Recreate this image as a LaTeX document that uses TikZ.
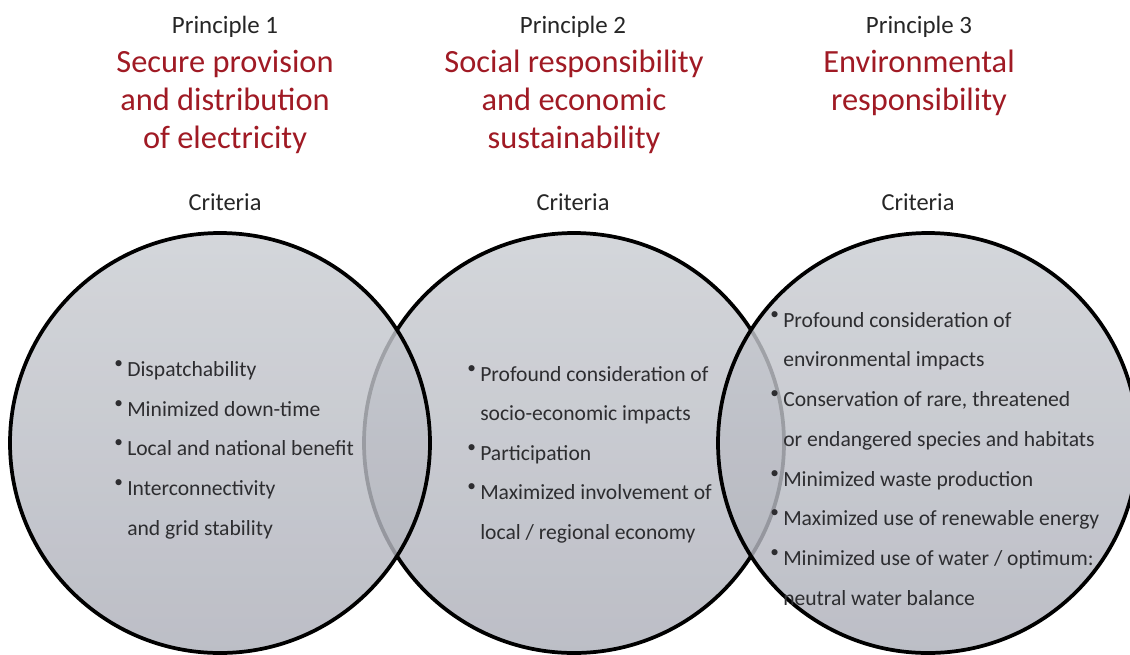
\documentclass[tikz,border=0pt]{standalone}
\usepackage{fontspec}
\setmainfont{Carlito}
\usepackage{graphicx}
\definecolor{titlered}{RGB}{160,26,36}
\definecolor{ink}{RGB}{38,38,38}
\definecolor{listink}{RGB}{45,45,48}
\definecolor{shadetop}{RGB}{203,206,211}
\definecolor{shadebot}{RGB}{174,176,186}
% small raised bullet hanging left of the item text
\newcommand\itembul{\llap{\raisebox{0.36em}{\scalebox{0.8}{\textbullet}}\hspace{0.2em}}}
\tikzset{
  venn/.style={circle, inner sep=0pt, minimum size=315pt, line width=2.8pt,
    draw=black, shade, top color=shadetop, bottom color=shadebot, fill opacity=0.82},
  principle/.style={anchor=base, inner sep=0pt, text=ink,
    font=\fontsize{18.7}{22}\selectfont},
  heading/.style={anchor=base, inner sep=0pt, text=titlered,
    font=\fontsize{24.3}{29}\selectfont},
  criteria/.style={anchor=base, inner sep=0pt, text=ink,
    font=\fontsize{18.3}{22}\selectfont},
  item/.style={anchor=base west, inner sep=0pt, text=listink,
    font=\fontsize{16.2}{19}\selectfont}
}
\begin{document}
\begin{tikzpicture}[x=0.75pt,y=-0.75pt]
\fill[white] (0,0) rectangle (1130,654);
\useasboundingbox (0,0) rectangle (1130,654);

% the middle circle lies underneath the two outer ones
\node (c2) [venn] at (574,443) {};
\node (c1) [venn] at (220,443) {};
\node (c3) [venn] at (928,443) {};

% principle headings
\node (p1) [principle] at (225,33) {Principle 1};
\node (p2) [principle] at (573,33) {Principle 2};
\node (p3) [principle] at (919,33) {Principle 3};

\node (h1a) [heading] at (225,72) {Secure provision};
\node (h1b) [heading] at (225,110) {and distribution};
\node (h1c) [heading] at (225,148) {of electricity};
\node (h2a) [heading] at (574,72) {Social responsibility};
\node (h2b) [heading] at (574,110) {and economic};
\node (h2c) [heading] at (574,148) {sustainability};
\node (h3a) [heading] at (919,72) {Environmental};
\node (h3b) [heading] at (919,110) {responsibility};

\node (k1) [criteria] at (225,210) {Criteria};
\node (k2) [criteria] at (573,210) {Criteria};
\node (k3) [criteria] at (918,210) {Criteria};

% criteria of principle 1
\node (a1) [item] at (127,376) {\itembul Dispatchability};
\node (a2) [item] at (127,416) {\itembul Minimized down-time};
\node (a3) [item] at (127,455) {\itembul Local and national benefit};
\node (a4) [item] at (127,495) {\itembul Interconnectivity};
\node (a5) [item] at (127,535) {and grid stability};

% criteria of principle 2
\node (b1) [item] at (480,381) {\itembul Profound consideration of};
\node (b2) [item] at (480,420) {socio-economic impacts};
\node (b3) [item] at (480,460) {\itembul Participation};
\node (b4) [item] at (480,499) {\itembul Maximized involvement of};
\node (b5) [item] at (480,539) {local / regional economy};

% criteria of principle 3
\node (e1) [item] at (783,327) {\itembul Profound consideration of};
\node (e2) [item] at (783,366) {environmental impacts};
\node (e3) [item] at (783,406) {\itembul Conservation of rare, threatened};
\node (e4) [item] at (783,446) {or endangered species and habitats};
\node (e5) [item] at (783,486) {\itembul Minimized waste production};
\node (e6) [item] at (783,525) {\itembul Maximized use of renewable energy};
\node (e7) [item] at (783,565) {\itembul Minimized use of water / optimum:};
\node (e8) [item] at (783,605) {neutral water balance};
\end{tikzpicture}
\end{document}
